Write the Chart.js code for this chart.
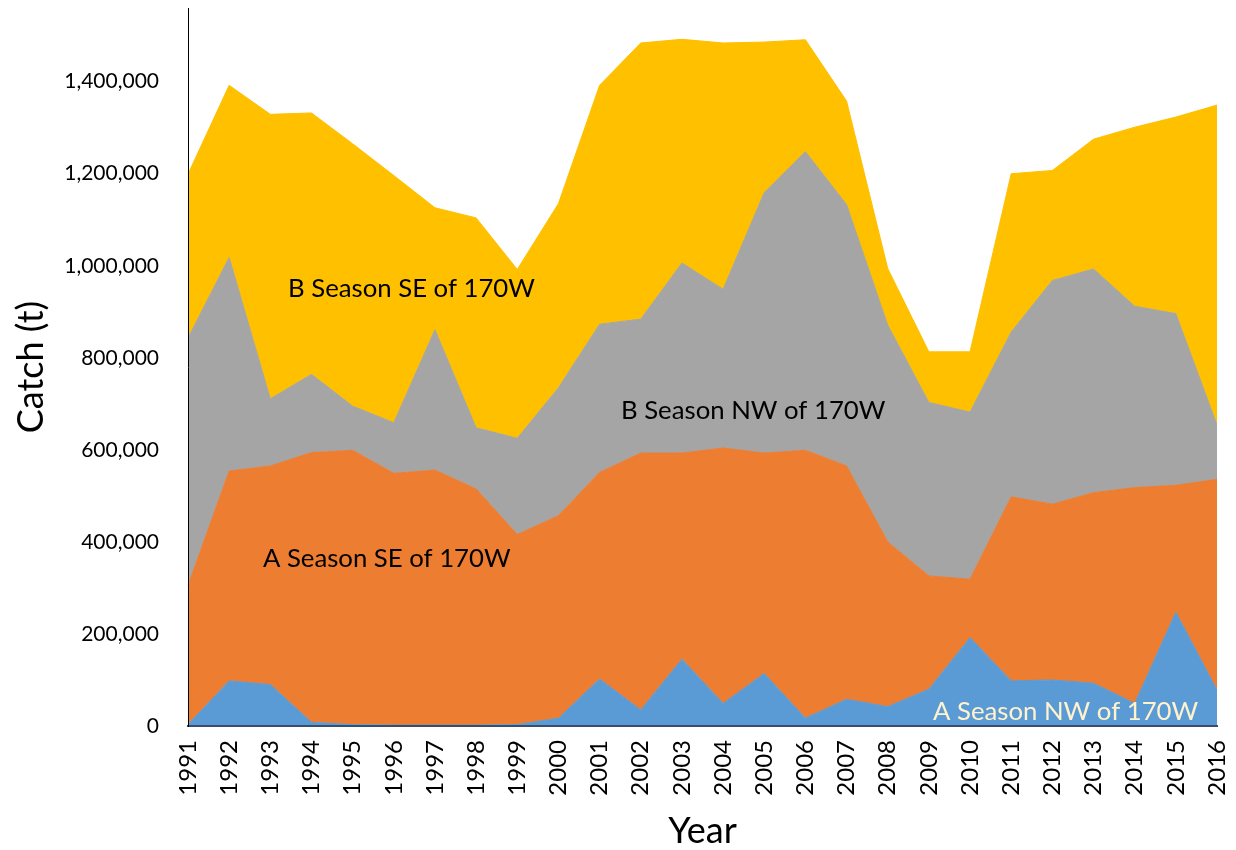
<!DOCTYPE html>
<html>
<head>
<meta charset="utf-8">
<script src="https://cdn.jsdelivr.net/npm/chart.js@4/dist/chart.umd.min.js"></script>
<style>
  html, body { margin: 0; padding: 0; background: #ffffff; }
  #wrap { width: 1236px; height: 850px; position: relative; }
</style>
</head>
<body>
<div id="wrap"><canvas id="c" width="1236" height="850"></canvas></div>
<script>
// ---- data ----
const years = ['1991','1992','1993','1994','1995','1996','1997','1998','1999','2000','2001','2002','2003','2004','2005','2006','2007','2008','2009','2010','2011','2012','2013','2014','2015','2016'];
const aSeasonNW = [3000, 98000, 90000, 8000, 3000, 2000, 2000, 2000, 3000, 17000, 102000, 35000, 145000, 49000, 114000, 17000, 58000, 42000, 80000, 192000, 98000, 100000, 93000, 49000, 247000, 78000];
const aSeasonSE = [302000, 456000, 475000, 586000, 596000, 547000, 554000, 513000, 413000, 440000, 449000, 558000, 448000, 555000, 479000, 582000, 507000, 358000, 246000, 127000, 400000, 382000, 414000, 469000, 276000, 458000];
const bSeasonNW = [538000, 464000, 146000, 170000, 96000, 110000, 305000, 133000, 209000, 278000, 322000, 291000, 413000, 345000, 566000, 649000, 568000, 471000, 377000, 363000, 358000, 486000, 486000, 394000, 373000, 118000];
const bSeasonSE = [356000, 374000, 618000, 568000, 570000, 537000, 265000, 456000, 367000, 400000, 519000, 600000, 486000, 535000, 327000, 243000, 225000, 123000, 110000, 131000, 344000, 239000, 282000, 389000, 427000, 695000];
const seriesNames = ['A Season NW of 170W', 'A Season SE of 170W', 'B Season NW of 170W', 'B Season SE of 170W'];
const yTickValues = [0, 200000, 400000, 600000, 800000, 1000000, 1200000, 1400000];
const yMax = 1560000;

// ---- styles ----
const colors = ['#5B9BD5', '#ED7D31', '#A5A5A5', '#FFC000'];
const FONT = 'Lato, "Open Sans", sans-serif';

// In-chart series labels: anchored in data units (category index, value)
const areaLabels = [
  { text: seriesNames[3], x: 2.43, y: 933000, color: '#000000' },
  { text: seriesNames[2], x: 10.52, y: 668000, color: '#000000' },
  { text: seriesNames[1], x: 1.82, y: 346000, color: '#000000' },
  { text: seriesNames[0], x: 18.1, y: 13000, color: '#FFF2CC' }
];

const labelPlugin = {
  id: 'areaLabels',
  afterDatasetsDraw(chart) {
    const ctx = chart.ctx;
    const xs = chart.scales.x, ys = chart.scales.y;
    ctx.save();
    ctx.font = '100px ' + FONT;
    const w100 = ctx.measureText(seriesNames[3]).width;
    const size = 100 * 247 / w100;
    ctx.font = size.toFixed(2) + 'px ' + FONT;
    ctx.textAlign = 'left';
    ctx.textBaseline = 'alphabetic';
    areaLabels.forEach(l => {
      ctx.fillStyle = l.color;
      ctx.fillText(l.text, xs.getPixelForValue(l.x), ys.getPixelForValue(l.y));
    });
    ctx.restore();
  }
};

const datasets = [aSeasonNW, aSeasonSE, bSeasonNW, bSeasonSE].map((d, i) => ({
  label: seriesNames[i],
  data: d,
  backgroundColor: colors[i],
  borderColor: colors[i],
  borderWidth: 1,
  pointRadius: 0,
  pointHoverRadius: 0,
  tension: 0,
  fill: i === 0 ? 'origin' : '-1'
}));

new Chart(document.getElementById('c'), {
  type: 'line',
  data: { labels: years, datasets },
  options: {
    responsive: false,
    animation: false,
    events: [],
    layout: { padding: { left: 0, right: 19, top: 8, bottom: 0 } },
    plugins: { legend: { display: false }, tooltip: { enabled: false } },
    scales: {
      x: {
        z: 1,
        offset: false,
        grid: { display: false, drawTicks: false },
        border: { display: true, color: '#3A4D6B', width: 2, z: 1 },
        ticks: {
          color: '#000000',
          font: { family: FONT, size: 24 },
          minRotation: 90, maxRotation: 90,
          padding: 14,
          autoSkip: false
        },
        title: {
          display: true, text: 'Year', color: '#000000',
          font: { family: FONT, size: 36, lineHeight: 1 },
          padding: { top: 0, bottom: 1 }
        },
        afterFit(scale) {
          scale.height = 124;
          scale.paddingLeft = 0; scale.paddingRight = 0;
        }
      },
      y: {
        z: 1,
        stacked: true,
        min: 0, max: yMax,
        grid: { display: false, drawTicks: false },
        border: { display: true, color: '#000000', width: 1, z: 1 },
        ticks: {
          color: '#000000',
          font: { family: FONT, size: 21 },
          padding: 29,
          autoSkip: false,
          callback: (v) => Number(v).toLocaleString('en-US')
        },
        afterBuildTicks(scale) {
          scale.ticks = yTickValues.map(v => ({ value: v }));
        },
        title: {
          display: true, text: 'Catch (t)', color: '#000000',
          font: { family: FONT, size: 36, lineHeight: 1 },
          padding: { top: 13, bottom: 0 }
        },
        afterFit(scale) {
          scale.width = 188;
          scale.paddingTop = 0; scale.paddingBottom = 0;
        }
      }
    }
  },
  plugins: [labelPlugin]
});
</script>
</body>
</html>
